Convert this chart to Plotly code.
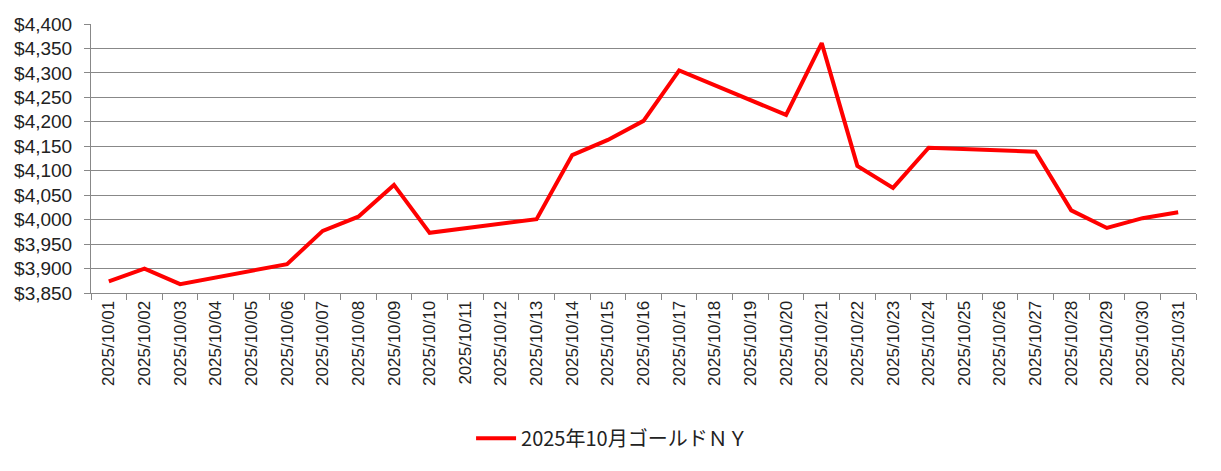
import plotly.graph_objects as go

dates = [f"2025/10/{d:02d}" for d in range(1, 32)]
# NY gold close (USD/oz); None = no trading (weekend)
prices = [3874, 3900, 3868, None, None, 3909, 3977, 4006, 4071, 3973,
          None, None, 4001, 4132, 4163, 4202, 4305, None, None, 4214,
          4361, 4110, 4065, 4147, None, None, 4139, 4019, 3983, 4003,
          4015]
series_name = "2025年10月ゴールドＮＹ"
y_ticks = list(range(3850, 4401, 50))

fig = go.Figure()
fig.add_trace(go.Scatter(
    x=dates, y=prices, mode="lines", name=series_name,
    connectgaps=True,
    line=dict(color="#FF0000", width=4),
))

# page body has an 8px default margin, so the figure is sized/offset for it
fig.update_layout(
    width=1213, height=463,
    margin=dict(l=83, r=25, t=16, b=178),
    paper_bgcolor="white", plot_bgcolor="white",
    font=dict(family="Liberation Sans, Noto Sans CJK JP", size=16, color="#222"),
    showlegend=True,
    legend=dict(
        orientation="h", xref="container", yref="container",
        x=0.498, y=0.071, xanchor="center", yanchor="middle",
        font=dict(family="Noto Sans CJK JP", size=20, color="#222"),
        itemwidth=40,
    ),
)
fig.update_xaxes(
    type="category", categoryorder="array", categoryarray=dates,
    tickangle=-90, tickson="boundaries", ticks="outside", ticklen=6,
    tickcolor="#888", showline=True, linecolor="#888", linewidth=1,
    showgrid=False, range=[-0.5, len(dates) - 0.5],
    tickfont=dict(size=17), automargin=False,
)
fig.update_yaxes(
    range=[3850, 4400], tickvals=y_ticks,
    ticktext=[f"${v:,}" for v in y_ticks],
    ticks="outside", ticklen=6, tickcolor="#888",
    showline=True, linecolor="#888", linewidth=1,
    showgrid=True, gridcolor="#888", gridwidth=1,
    zeroline=False, tickfont=dict(size=19), automargin=False,
    ticklabelstandoff=8,
)

fig.write_html("out.html")
